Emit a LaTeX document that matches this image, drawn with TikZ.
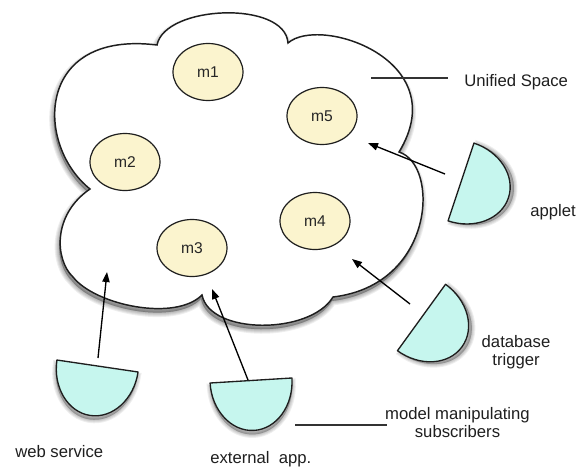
\documentclass[tikz,border=0pt]{standalone}
\usepackage{fontspec}
\setmainfont{Liberation Sans}
\usetikzlibrary{shapes.geometric,arrows.meta}
\definecolor{ellfill}{RGB}{251,244,206}
\definecolor{capfill}{RGB}{198,246,238}
\definecolor{edge}{RGB}{30,30,30}
\def\cloudpath{(90,189) .. controls (35,145) and (35,30) .. (157,45)
  .. controls (165,5) and (285,0) .. (288,43)
  .. controls (320,15) and (455,60) .. (399,152)
  .. controls (440,165) and (435,285) .. (333,297)
  .. controls (310,335) and (210,335) .. (202,295)
  .. controls (175,322) and (95,305) .. (73,277)
  .. controls (55,260) and (52,215) .. cycle}
\def\cappath{(-41,0) arc[start angle=180,end angle=0,x radius=41,y radius=50] -- cycle}
\begin{document}
\begin{tikzpicture}[x=0.75pt,y=-0.75pt,
  model/.style={ellipse, draw=edge, line width=0.9pt, fill=ellfill,
    minimum width=52.5pt, minimum height=42.75pt, inner sep=0pt,
    font=\fontsize{11.7}{14}\selectfont, text=black!85},
  lbl/.style={inner sep=0pt, font=\fontsize{12.5}{13.5}\selectfont, text=black!88},
  arr/.style={draw=black, line width=1pt, -{Triangle[length=7.5pt,width=5.5pt]}},
  lead/.style={draw=black!80, line width=1pt},
  capshape/.style={fill=capfill, draw=edge, line width=1pt, line join=round},
  shade/.style={fill=black, fill opacity=0.065, draw=black, draw opacity=0.065}]
\useasboundingbox (0,0) rectangle (584,467);
\fill[white] (0,0) rectangle (584,467);

% cloud shadow and cloud
\foreach \w in {1,3,5,7,9} {
  \path[shade, line width=\w*0.75pt, shift={(-1,4)}] \cloudpath;
}
\draw[fill=white, draw=edge, line width=1.1pt] \cloudpath;

% models
\node[model] (m1) at (208,72) {m1};
\node[model] (m2) at (125,162) {m2};
\node[model] (m3) at (192,248) {m3};
\node[model] (m4) at (315,221) {m4};
\node[model] (m5) at (322,116) {m5};

% subscriber caps
\foreach \px/\py/\rot in {97.5/366/-8.4, 251/380.5/3.5, 461/182/71.6, 421.5/317.5/54.1} {
  \begin{scope}[shift={(\px,\py)}, rotate=\rot]
    \foreach \w in {1,3,5,7} {
      \path[shade, line width=\w*0.75pt, shift={(0,4)}] \cappath;
    }
    \path[capshape] \cappath;
  \end{scope}
}

% arrow end points
\coordinate (wsS) at (98,358);  \coordinate (wsT) at (107,272);
\coordinate (exS) at (248,380); \coordinate (exT) at (212,289);
\coordinate (dbS) at (410,304); \coordinate (dbT) at (352,259);
\coordinate (apS) at (445,174); \coordinate (apT) at (368,143);
\draw[arr] (wsS) -- (wsT);
\draw[arr] (exS) -- (exT);
\draw[arr] (dbS) -- (dbT);
\draw[arr] (apS) -- (apT);

% leader lines
\coordinate (usA) at (371,78);  \coordinate (usB) at (448,78);
\coordinate (mmA) at (295,425); \coordinate (mmB) at (387,425);
\draw[lead] (usA) -- (usB);
\draw[lead] (mmA) -- (mmB);

% labels
\node[lbl, anchor=base west] (us) at (464,86) {Unified Space};
\node[lbl, anchor=base west] (ap) at (530,216) {applet};
\node[lbl, anchor=base] (db1) at (516,347) {database};
\node[lbl, anchor=base] (db2) at (516,365) {trigger};
\node[lbl, anchor=base] (mm1) at (457.5,419) {model manipulating};
\node[lbl, anchor=base] (mm2) at (457.5,437) {subscribers};
\node[lbl, anchor=base west] (ws) at (15,457) {web service};
\node[lbl, anchor=base west] (ex) at (210,463) {external\ \ app.};
\end{tikzpicture}
\end{document}
